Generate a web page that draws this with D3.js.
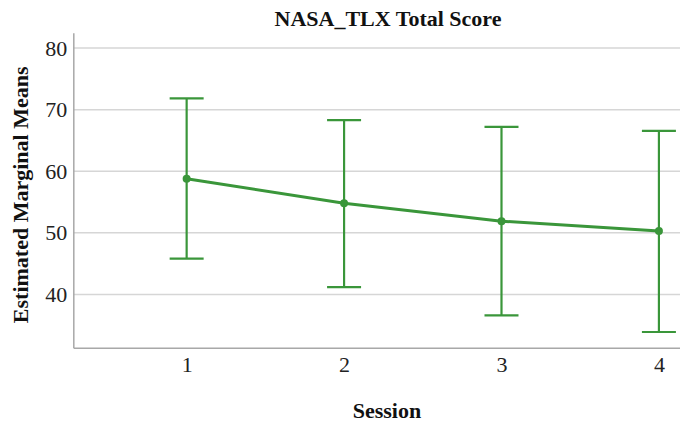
<!DOCTYPE html>
<html>
<head>
<meta charset="utf-8">
<script src="https://cdn.jsdelivr.net/npm/d3@7/dist/d3.min.js"></script>
<style>
  html, body { margin: 0; padding: 0; background: #fff; }
  svg { display: block; }
  svg text { font-family: "Liberation Serif", Tinos, "Times New Roman", Times, "DejaVu Serif", serif; }
</style>
</head>
<body>
<svg id="chart" width="680" height="423"></svg>
<script>
// Estimated marginal means of NASA-TLX total score per session, with 95% CI
const sessions = [1, 2, 3, 4];
const means = [58.8, 54.8, 51.9, 50.3];
const ciLower = [45.8, 41.2, 36.6, 33.9];
const ciUpper = [71.85, 68.3, 67.2, 66.55];
const yTicks = [40, 50, 60, 70, 80];

const title = "NASA_TLX Total Score";
const xTitle = "Session";
const yTitle = "Estimated Marginal Means";

const green = "#3a963a";
const serif = '"Liberation Serif", Tinos, "Times New Roman", Times, "DejaVu Serif", serif';
const svg = d3.select("#chart");

const plot = { left: 73.3, top: 32.7, bottom: 347.7, right: 703 };

const x = d3.scaleLinear().domain([0.28, 4.28]).range([plot.left, plot.right]);
const y = d3.scaleLinear().domain([31.35, 82.5]).range([plot.bottom, plot.top]);

// horizontal gridlines
svg.append("g")
  .selectAll("line")
  .data(yTicks)
  .join("line")
  .attr("x1", plot.left)
  .attr("x2", plot.right)
  .attr("y1", d => y(d))
  .attr("y2", d => y(d))
  .attr("stroke", "#d6d6d6")
  .attr("stroke-width", 1.5);

// y axis
const yAxis = svg.append("g")
  .attr("transform", `translate(${plot.left},0)`)
  .call(d3.axisLeft(y).tickValues(yTicks).tickSize(0).tickPadding(6))
  .attr("font-family", serif);
yAxis.select(".domain").attr("stroke", "#a8a8a8").attr("stroke-width", 1.5);
yAxis.selectAll("text")
  .style("font-family", serif)
  .attr("font-size", 22)
  .attr("fill", "#222");

// x axis
const xAxis = svg.append("g")
  .attr("transform", `translate(0,${plot.bottom})`)
  .call(d3.axisBottom(x).tickValues(sessions).tickFormat(d3.format("d")).tickSize(0).tickPadding(9))
  .attr("font-family", serif);
xAxis.select(".domain").attr("stroke", "#a8a8a8").attr("stroke-width", 1.5);
xAxis.selectAll("text")
  .style("font-family", serif)
  .attr("font-size", 22)
  .attr("fill", "#222");

const rows = sessions.map((s, i) => ({ s, m: means[i], lo: ciLower[i], hi: ciUpper[i] }));

// error bars
const eb = svg.append("g").attr("stroke", green).attr("stroke-width", 2.2).attr("fill", "none");
eb.selectAll("line.v")
  .data(rows).join("line").attr("class", "v")
  .attr("x1", d => x(d.s)).attr("x2", d => x(d.s))
  .attr("y1", d => y(d.lo)).attr("y2", d => y(d.hi));
const capHalf = 17;
eb.selectAll("line.top")
  .data(rows).join("line").attr("class", "top")
  .attr("x1", d => x(d.s) - capHalf).attr("x2", d => x(d.s) + capHalf)
  .attr("y1", d => y(d.hi)).attr("y2", d => y(d.hi));
eb.selectAll("line.bot")
  .data(rows).join("line").attr("class", "bot")
  .attr("x1", d => x(d.s) - capHalf).attr("x2", d => x(d.s) + capHalf)
  .attr("y1", d => y(d.lo)).attr("y2", d => y(d.lo));

// mean line
svg.append("path")
  .datum(rows)
  .attr("fill", "none")
  .attr("stroke", green)
  .attr("stroke-width", 3)
  .attr("d", d3.line().x(d => x(d.s)).y(d => y(d.m)));

svg.append("g")
  .selectAll("circle")
  .data(rows)
  .join("circle")
  .attr("cx", d => x(d.s))
  .attr("cy", d => y(d.m))
  .attr("r", 4)
  .attr("fill", green);

// titles
svg.append("text")
  .attr("x", 388).attr("y", 26)
  .attr("text-anchor", "middle")
  .style("font-family", serif)
  .attr("font-size", 22).attr("font-weight", "bold")
  .attr("fill", "#111")
  .text(title);

svg.append("text")
  .attr("x", 387).attr("y", 417.5)
  .attr("text-anchor", "middle")
  .style("font-family", serif)
  .attr("font-size", 22).attr("font-weight", "bold")
  .attr("fill", "#111")
  .text(xTitle);

svg.append("text")
  .attr("transform", `translate(28,${(62.3 + 327.3) / 2}) rotate(-90)`)
  .attr("text-anchor", "middle")
  .style("font-family", serif)
  .attr("font-size", 22).attr("font-weight", "bold")
  .attr("fill", "#111")
  .text(yTitle);
</script>
</body>
</html>
